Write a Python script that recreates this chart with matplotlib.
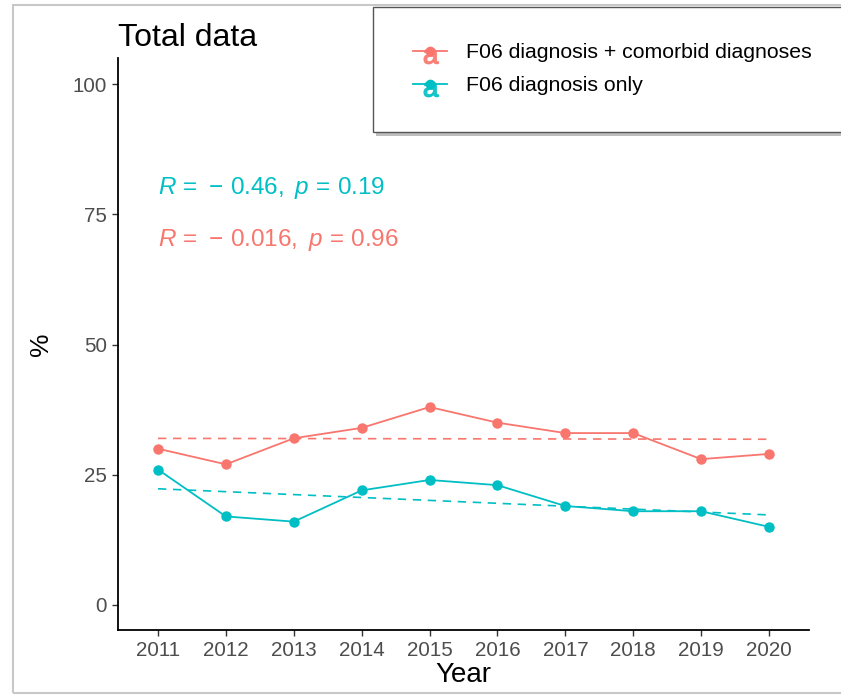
import matplotlib
matplotlib.use("Agg")
import matplotlib.pyplot as plt
import numpy as np
from matplotlib.lines import Line2D
from matplotlib.patches import Rectangle
from matplotlib.legend_handler import HandlerTuple
from matplotlib.markers import MarkerStyle
from matplotlib.transforms import Affine2D

years = [2011, 2012, 2013, 2014, 2015, 2016, 2017, 2018, 2019, 2020]
comorbid = [30, 27, 32, 34, 38, 35, 33, 33, 28, 29]
only = [26, 17, 16, 22, 24, 23, 19, 18, 18, 15]
series_labels = ["F06 diagnosis + comorbid diagnoses", "F06 diagnosis only"]
y_ticks = [0, 25, 50, 75, 100]
stat_labels = [r"$R\,=\,-\,0.016,\ p\,=\,0.96$", r"$R\,=\,-\,0.46,\ p\,=\,0.19$"]

RED = "#F8766D"
CYAN = "#00BFC4"

plt.rcParams["font.family"] = ["Liberation Sans", "DejaVu Sans"]
plt.rcParams["mathtext.fontset"] = "custom"
plt.rcParams["mathtext.rm"] = "Liberation Sans"
plt.rcParams["mathtext.it"] = "Liberation Sans:italic"

W, H = 841, 698
fig = plt.figure(figsize=(W / 100, H / 100), dpi=100)
fig.patch.set_facecolor("white")

# outer frame
fig.patches.append(Rectangle((13 / W, 1 - 693 / H), (W + 10) / W, (693 - 5) / H,
                             transform=fig.transFigure, fill=False,
                             edgecolor="#c8c8c8", linewidth=1.5, zorder=0))

L, R_, T, B = 118, 809, 58, 630
ax = fig.add_axes([L / W, 1 - B / H, (R_ - L) / W, (B - T) / H])
x = np.array(years, dtype=float)

for vals, col in [(comorbid, RED), (only, CYAN)]:
    v = np.array(vals, dtype=float)
    slope, icpt = np.polyfit(x, v, 1)
    ax.plot(x, slope * x + icpt, color=col, lw=1.2, dashes=(5, 4), zorder=2)
    ax.plot(x, v, color=col, lw=1.3, marker="o", markersize=6.5, zorder=3)

ax.text(2011, 80, stat_labels[1], color=CYAN, fontsize=17.5, ha="left", va="center")
ax.text(2011, 70, stat_labels[0], color=RED, fontsize=17.5, ha="left", va="center")

x0 = 2011 - (158 - L) / 67.9
x1 = 2020 + (R_ - 769) / 67.9
ax.set_xlim(x0, x1)
ax.set_ylim(-4.8, 105)
ax.set_xticks(years)
ax.set_yticks(y_ticks)
ax.spines["top"].set_visible(False)
ax.spines["right"].set_visible(False)
for s in ["left", "bottom"]:
    ax.spines[s].set_linewidth(1.3)
    ax.spines[s].set_color("black")
ax.tick_params(axis="both", length=4, width=1.0, color="#333333",
               labelcolor="#4D4D4D", labelsize=14.8, pad=4)
ax.set_xlabel("Year", fontsize=20, labelpad=1)
ax.set_ylabel("%", fontsize=19, labelpad=14)
ax.set_title("Total data", fontsize=23, loc="left", pad=9)

# legend box with shadow
lx0, ly0, lx1, ly1 = 373, 7, 845, 132
fig.patches.append(Rectangle(((lx0 + 3) / W, 1 - (ly1 + 4) / H), (lx1 - lx0) / W, (ly1 - ly0) / H,
                             transform=fig.transFigure, facecolor="#bdbdbd",
                             edgecolor="none", zorder=1))
fig.patches.append(Rectangle((lx0 / W, 1 - ly1 / H), (lx1 - lx0) / W, (ly1 - ly0) / H,
                             transform=fig.transFigure, facecolor="white",
                             edgecolor="#555555", linewidth=1.0, zorder=2))

a_marker = MarkerStyle(r"$\mathrm{a}$", transform=Affine2D().translate(0.05, -0.3))
handles = []
for col in [RED, CYAN]:
    am = Line2D([], [], color=col, lw=0, marker=a_marker, markersize=11, alpha=0.85)
    ln = Line2D([], [], color=col, lw=1.3, marker="o", markersize=6)
    handles.append((am, ln))
leg = fig.legend(handles, series_labels,
                 handler_map={tuple: HandlerTuple(ndivide=1, pad=0)},
                 loc="upper left", bbox_to_anchor=(413 / W, 1 - 43 / H),
                 frameon=False, fontsize=15.3, handlelength=1.6, handletextpad=0.9,
                 labelspacing=0.68, borderpad=0, borderaxespad=0)
leg.set_zorder(5)

fig.savefig("out.png", dpi=100, facecolor="white")
